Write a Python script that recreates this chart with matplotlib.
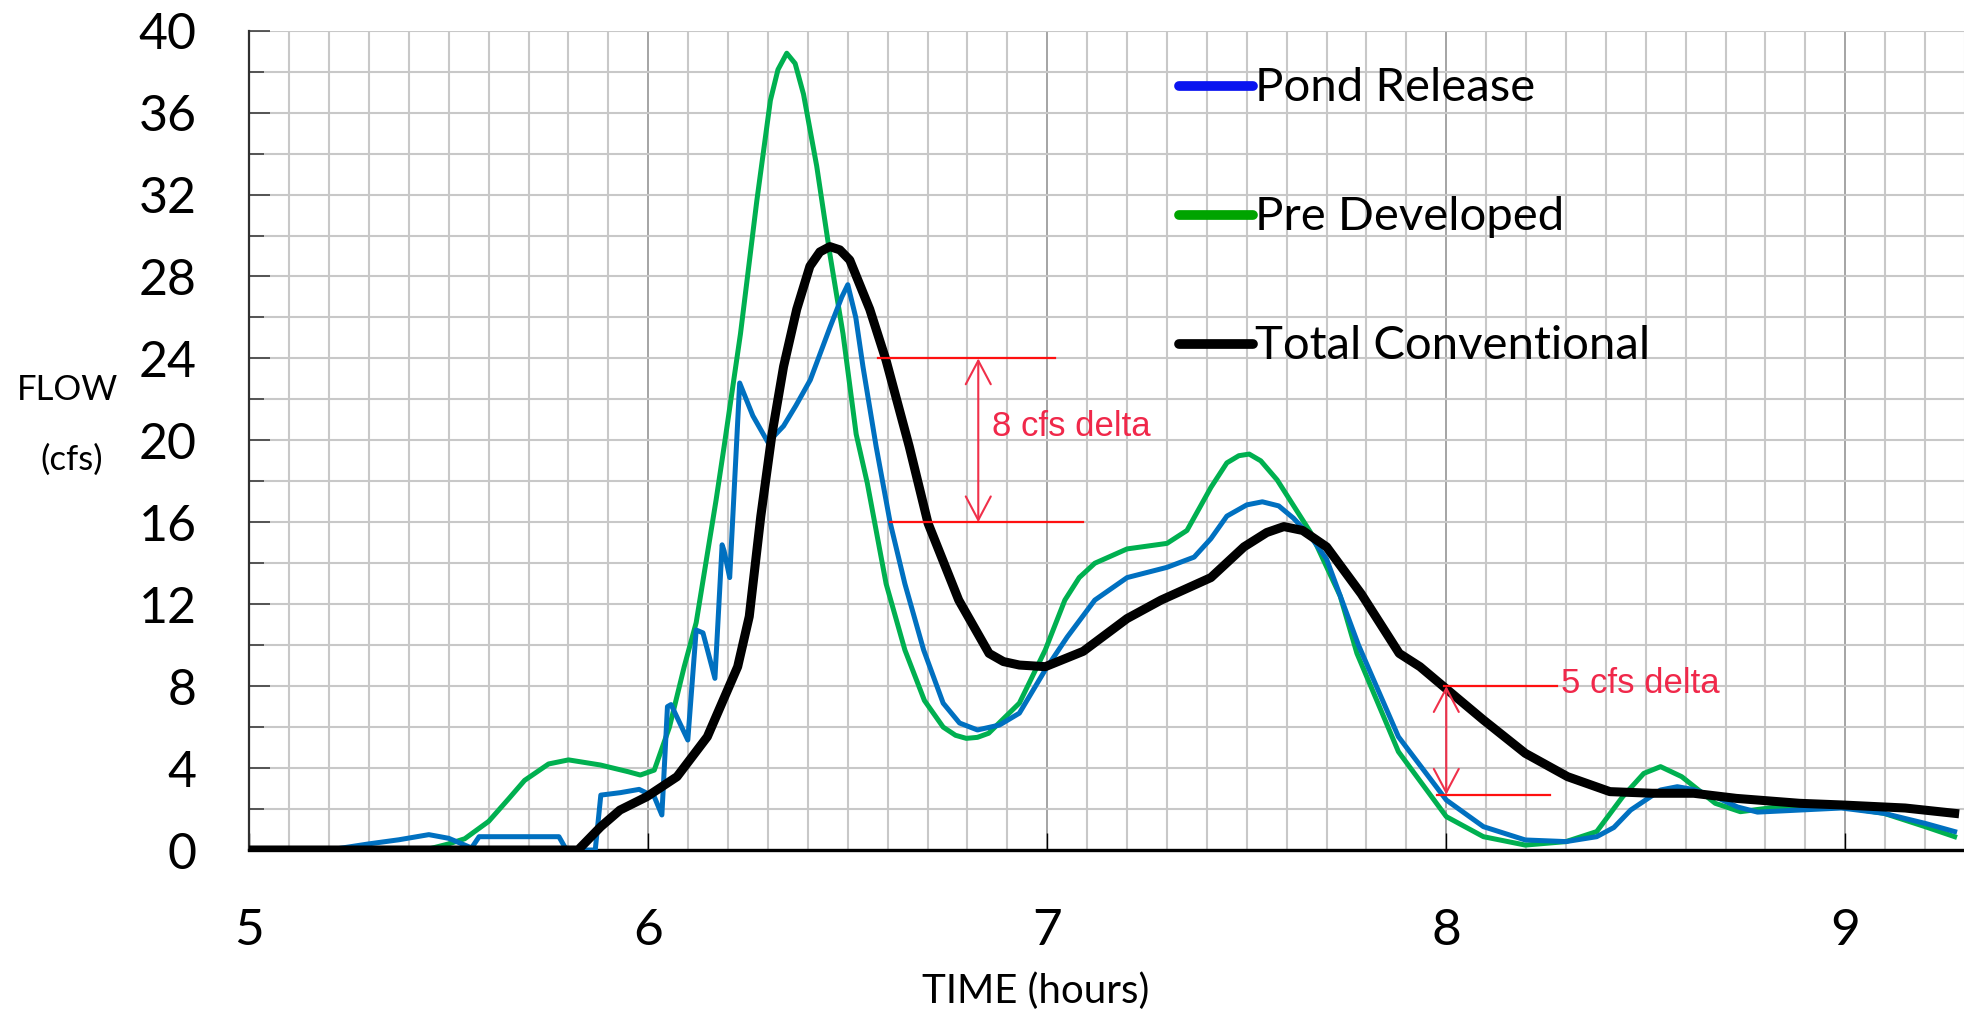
import numpy as np
import matplotlib
matplotlib.use("Agg")
import matplotlib.pyplot as plt

plt.rcParams['font.family'] = ['Lato', 'DejaVu Sans']

# Pond Release (blue)
time_pond = [5.0, 5.2, 5.3, 5.375, 5.45, 5.5, 5.557, 5.576, 5.776, 5.795, 5.867, 5.881,
             5.93, 5.977, 6.015, 6.034, 6.048, 6.057, 6.099, 6.12, 6.137, 6.167, 6.185,
             6.19, 6.204, 6.229, 6.262, 6.30, 6.339, 6.37, 6.406, 6.455, 6.485, 6.50, 6.52,
             6.538, 6.571, 6.606, 6.643, 6.69, 6.739, 6.78, 6.825, 6.88, 6.93, 6.995, 7.05,
             7.119, 7.2, 7.30, 7.368, 7.41, 7.45, 7.50, 7.539, 7.58, 7.617, 7.66, 7.70, 7.78,
             7.88, 8.0, 8.093, 8.198, 8.30, 8.377, 8.42, 8.462, 8.537, 8.579, 8.62, 8.674,
             8.73, 8.78, 8.885, 8.99, 9.097, 9.2, 9.274]
pond = [0, 0, 0.3, 0.5, 0.75, 0.57, 0.1, 0.65, 0.65, 0, 0, 2.68,
        2.8, 2.96, 2.6, 1.71, 7.0, 7.1, 5.37, 10.74, 10.6, 8.38, 14.9,
        14.6, 13.3, 22.8, 21.2, 19.9, 20.7, 21.7, 22.95, 25.5, 27.0, 27.6, 26.0,
        23.6, 19.7, 16.0, 13.0, 9.77, 7.17, 6.2, 5.86, 6.1, 6.68, 8.8, 10.4,
        12.2, 13.3, 13.8, 14.3, 15.2, 16.3, 16.85, 17.0, 16.8, 16.2, 15.3, 14.2, 10.0,
        5.53, 2.44, 1.14, 0.49, 0.41, 0.65, 1.1, 1.95, 2.93, 3.09, 2.95, 2.6,
        2.1, 1.85, 1.95, 2.05, 1.79, 1.3, 0.9]

# Pre Developed (green)
time_pre = [5.0, 5.4, 5.45, 5.5, 5.54, 5.6, 5.65, 5.69, 5.75, 5.8, 5.88, 5.95, 5.98,
            6.015, 6.053, 6.09, 6.12, 6.17, 6.19, 6.231, 6.272, 6.306, 6.325, 6.347, 6.368,
            6.389, 6.422, 6.455, 6.488, 6.521, 6.549, 6.596, 6.643, 6.692, 6.739, 6.77,
            6.797, 6.825, 6.853, 6.93, 6.995, 7.044, 7.08, 7.119, 7.2, 7.30, 7.35, 7.41,
            7.45, 7.48, 7.506, 7.535, 7.576, 7.66, 7.734, 7.776, 7.88, 8.0, 8.093, 8.198,
            8.30, 8.377, 8.442, 8.495, 8.537, 8.59, 8.674, 8.737, 8.833, 8.99, 9.097, 9.2,
            9.274]
pre = [0, 0, 0.05, 0.3, 0.55, 1.4, 2.5, 3.4, 4.2, 4.4, 4.15, 3.82, 3.66,
       3.9, 6.0, 8.95, 11.1, 17.1, 19.7, 25.2, 31.7, 36.6, 38.1, 38.9, 38.4,
       36.9, 33.4, 29.1, 25.2, 20.3, 17.9, 13.0, 9.77, 7.3, 6.0, 5.6,
       5.45, 5.5, 5.7, 7.17, 9.77, 12.2, 13.3, 14.0, 14.7, 14.97, 15.6, 17.7,
       18.9, 19.25, 19.33, 19.0, 18.07, 15.5, 12.4, 9.6, 4.8, 1.63, 0.65, 0.24,
       0.41, 0.9, 2.6, 3.74, 4.07, 3.58, 2.28, 1.87, 2.11, 2.11, 1.79, 1.14,
       0.65]

# Total Conventional (black)
time_total = [5.0, 5.824, 5.881, 5.929, 5.996, 6.072, 6.148, 6.224, 6.253, 6.282, 6.31,
              6.339, 6.372, 6.405, 6.43, 6.455, 6.48, 6.505, 6.555, 6.596, 6.654, 6.701,
              6.778, 6.854, 6.89, 6.93, 6.995, 7.09, 7.2, 7.285, 7.41, 7.493, 7.55, 7.593,
              7.64, 7.70, 7.787, 7.882, 7.934, 7.998, 8.093, 8.198, 8.304, 8.41, 8.516,
              8.62, 8.727, 8.885, 8.99, 9.15, 9.274]
total = [0, 0, 1.14, 1.95, 2.6, 3.58, 5.53, 8.95, 11.4, 16.3, 20.3,
         23.6, 26.4, 28.5, 29.2, 29.46, 29.3, 28.8, 26.4, 23.9, 19.7, 15.96,
         12.2, 9.6, 9.2, 9.03, 8.95, 9.7, 11.3, 12.2, 13.3, 14.8, 15.5, 15.79,
         15.6, 14.8, 12.5, 9.6, 8.95, 7.9, 6.35, 4.72, 3.58, 2.85, 2.77,
         2.77, 2.52, 2.28, 2.2, 2.05, 1.79]

series_labels = ["Pond Release", "Pre Developed", "Total Conventional"]
legend_colors = ["#0A14F0", "#00A400", "black"]

# delta annotations: (arrow x, upper y, lower y, upper x-range, lower x-range, text)
deltas = [
    (6.827, 24, 16, (6.575, 7.02), (6.605, 7.09), "8 cfs delta"),
    (8.0, 8, 2.7, (7.993, 8.278), (7.976, 8.26), "5 cfs delta"),
]

fig = plt.figure(figsize=(19.65, 10.13), dpi=100)
ax = fig.add_axes([249.3 / 1965, 1 - 850 / 1013, 1 - 249.3 / 1965, (850 - 30.7) / 1013])

ax.plot(time_pre, pre, color="#00B050", lw=3.6, solid_joinstyle="round", zorder=3)
ax.plot(time_pond, pond, color="#0070C0", lw=3.6, solid_joinstyle="round", zorder=4)
ax.plot(time_total, total, color="black", lw=6.5, solid_joinstyle="round", zorder=5)

ax.set_xlim(5, 9.274)
ax.set_ylim(0, 40)

# grid
ax.set_xticks([5, 6, 7, 8, 9])
ax.set_xticks(np.arange(5, 9.3, 0.1), minor=True)
ax.set_yticks(range(0, 41, 4))
ax.set_yticks(range(2, 41, 4), minor=True)
ax.grid(which="minor", axis="x", color="#C8C8C8", lw=1.5)
ax.grid(which="major", axis="x", color="#8C8C8C", lw=1.1)
ax.grid(which="both", axis="y", color="#C8C8C8", lw=1.5)
ax.set_axisbelow(True)

for s in ["top", "right"]:
    ax.spines[s].set_visible(False)
ax.spines["left"].set_linewidth(1.6)
ax.spines["left"].set_color("#303030")
ax.spines["bottom"].set_linewidth(2.4)
ax.spines["bottom"].set_color("black")

ax.tick_params(axis="y", which="major", direction="in", length=15, width=1.2,
               color="#404040", labelsize=36, pad=38)
ax.tick_params(axis="y", which="minor", direction="in", length=10.5, width=1.2,
               color="#404040")
ax.tick_params(axis="x", which="major", direction="in", length=12, width=1.0,
               color="black", labelsize=37, pad=42)
ax.tick_params(axis="x", which="minor", length=0)

# legend drawn inside the plot area
leg_x0, leg_x1 = 7.33, 7.515
for i, (lab, col) in enumerate(zip(series_labels, legend_colors)):
    y = 37.3 - i * 6.3
    ax.plot([leg_x0, leg_x1], [y, y], color=col, lw=7, solid_capstyle="round", zorder=6)
    ax.text(leg_x1 + 0.005, y - 0.75, lab, fontsize=34, va="baseline", ha="left", zorder=6)

# delta annotations
for x_arr, y_hi, y_lo, xr_hi, xr_lo, txt in deltas:
    ax.plot(xr_hi, [y_hi, y_hi], color="#FF1010", lw=1.6, zorder=6)
    ax.plot(xr_lo, [y_lo, y_lo], color="#FF1010", lw=1.6, zorder=6)
    ax.annotate("", xy=(x_arr, y_hi), xytext=(x_arr, y_lo),
                arrowprops=dict(arrowstyle="<->,head_length=0.85,head_width=0.45",
                                color="#F0304A", lw=1.5, mutation_scale=20,
                                shrinkA=0, shrinkB=0), zorder=6)
ax.text(6.862, 20.67, deltas[0][5], color="#F0284A", fontsize=25,
        family=["Liberation Sans", "DejaVu Sans"], va="center", ha="left", zorder=6)
ax.text(8.288, 8.14, deltas[1][5], color="#F0284A", fontsize=25,
        family=["Liberation Sans", "DejaVu Sans"], va="center", ha="left", zorder=6)

# axis titles
fig.text(68 / 1965, 1 - 390 / 1013, "FLOW", fontsize=25, ha="center", va="center")
fig.text(72 / 1965, 1 - 460 / 1013, "(cfs)", fontsize=25, ha="center", va="center")
fig.text(1035.5 / 1965, 1 - 1003 / 1013, "TIME (hours)", fontsize=29, ha="center", va="baseline")

fig.savefig("out.png", dpi=100)
